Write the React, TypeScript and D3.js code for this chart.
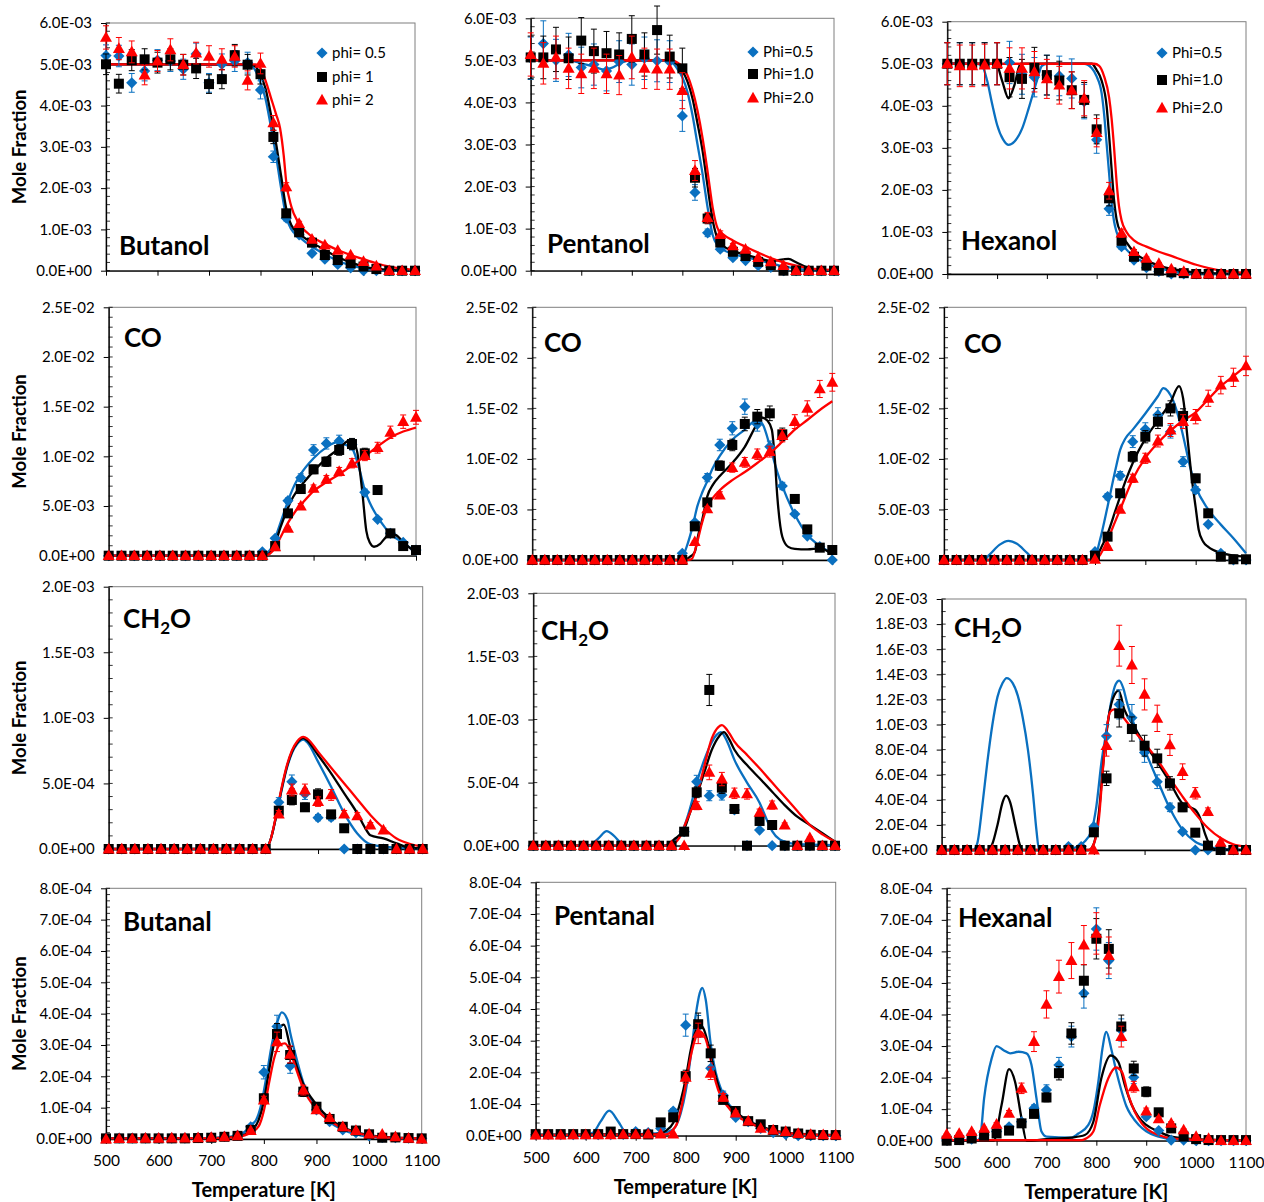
import React, { useEffect, useRef } from "react";
import * as d3 from "d3";

type Pt = [number, number];

const FONT = "Lato, 'Open Sans', sans-serif";
const BLUE = "#0a70c0";
const BLACK = "#000000";
const RED = "#ff0000";

// measured temperatures [K]
const temps = [500, 525, 550, 575, 600, 625, 650, 675, 700, 725, 750, 775, 800, 825, 850, 875, 900, 925, 950, 975, 1000, 1025, 1050, 1075, 1100];
const xTicks = [500, 600, 700, 800, 900, 1000, 1100];

// ---------- Butanol (x 1E-03)
const butanolExp05 = [5.21, 5.2, 4.55, 4.84, 5.1, 5.08, 4.88, 5.25, 4.55, 5.0, 5.08, 5.04, 4.38, 2.76, 1.27, 0.87, 0.42, 0.28, 0.15, 0.07, 0, 0, 0, 0, 0];
const butanolExp1 = [5.0, 4.53, 5.1, 5.12, 5.04, 5.12, 4.99, 4.9, 4.52, 4.64, 5.22, 4.99, 4.76, 3.24, 1.39, 0.93, 0.68, 0.38, 0.26, 0.18, 0.1, 0.04, 0, 0, 0];
const butanolExp2 = [5.65, 5.38, 5.3, 4.74, 5.08, 5.35, 4.99, 5.27, 5.19, 5.12, 5.19, 4.61, 5.02, 3.58, 2.03, 1.14, 0.76, 0.62, 0.49, 0.38, 0.22, 0.11, 0, 0, 0];
const butanolMod05: Pt[] = [[500, 5.0], [780, 4.98], [790, 4.85], [800, 4.55], [810, 4.15], [820, 3.5], [830, 2.8], [840, 2.0], [850, 1.3], [860, 1.0], [875, 0.82], [900, 0.58], [925, 0.4], [950, 0.24], [975, 0.13], [1000, 0.06], [1025, 0.02], [1050, 0], [1100, 0]];
const butanolMod1: Pt[] = [[500, 5.0], [780, 5.0], [790, 4.95], [800, 4.75], [810, 4.4], [820, 3.8], [830, 3.1], [840, 2.3], [850, 1.5], [860, 1.1], [875, 0.9], [900, 0.68], [925, 0.5], [950, 0.33], [975, 0.2], [1000, 0.1], [1025, 0.05], [1050, 0.02], [1100, 0]];
const butanolMod2: Pt[] = [[500, 5.0], [790, 5.0], [800, 4.9], [810, 4.6], [820, 4.2], [830, 3.8], [838, 3.45], [845, 2.8], [850, 2.15], [860, 1.55], [872, 1.2], [880, 1.05], [890, 0.93], [900, 0.82], [925, 0.65], [950, 0.5], [975, 0.38], [1000, 0.28], [1025, 0.18], [1050, 0.1], [1075, 0.05], [1100, 0.02]];

// ---------- Pentanol (x 1E-03)
const pentanolExp05 = [5.05, 5.4, 5.0, 5.13, 4.83, 4.9, 4.75, 4.97, 4.9, 5.05, 4.99, 4.97, 3.68, 1.86, 0.9, 0.51, 0.31, 0.24, 0.12, 0.08, 0, 0, 0, 0, 0];
const pentanolExp1 = [5.07, 5.07, 5.26, 5.05, 5.47, 5.22, 5.17, 5.14, 5.51, 5.14, 5.72, 5.09, 4.81, 2.21, 1.24, 0.67, 0.45, 0.35, 0.21, 0.13, 0, 0, 0, 0, 0];
const pentanolExp2 = [5.14, 4.93, 5.07, 4.81, 4.68, 4.81, 4.68, 4.65, 5.07, 4.81, 4.79, 4.79, 4.28, 2.38, 1.26, 0.86, 0.59, 0.51, 0.31, 0.21, 0.12, 0, 0, 0, 0];
const pentanolMod05: Pt[] = [[500, 5.0], [575, 5.0], [600, 4.93], [625, 4.85], [645, 4.78], [660, 4.82], [680, 4.95], [700, 5.0], [765, 5.0], [780, 4.95], [790, 4.8], [800, 4.6], [810, 4.25], [820, 3.7], [830, 3.0], [840, 2.3], [850, 1.5], [860, 0.85], [870, 0.6], [880, 0.5], [900, 0.4], [925, 0.32], [950, 0.25], [975, 0.18], [1000, 0.1], [1025, 0.05], [1050, 0.02], [1100, 0]];
const pentanolMod1: Pt[] = [[500, 5.0], [775, 5.0], [790, 4.9], [800, 4.75], [810, 4.5], [820, 4.1], [830, 3.5], [840, 2.85], [850, 2.0], [860, 1.2], [870, 0.75], [880, 0.6], [900, 0.47], [925, 0.38], [950, 0.3], [975, 0.23], [1000, 0.27], [1010, 0.28], [1025, 0.2], [1050, 0.06], [1075, 0.01], [1100, 0]];
const pentanolMod2: Pt[] = [[500, 5.0], [780, 5.0], [790, 4.95], [800, 4.85], [810, 4.65], [820, 4.3], [830, 3.8], [840, 3.15], [850, 2.35], [860, 1.5], [870, 1.0], [880, 0.87], [900, 0.72], [925, 0.57], [950, 0.43], [975, 0.3], [1000, 0.2], [1025, 0.12], [1050, 0.06], [1075, 0.03], [1100, 0.02]];

// ---------- Hexanol (x 1E-03)
const hexanolExp05 = [5.0, 5.0, 5.0, 5.0, 5.0, 5.03, 4.75, 4.68, 4.73, 4.71, 4.65, 4.1, 3.19, 1.55, 0.65, 0.33, 0.15, 0.06, 0, 0, 0, 0, 0, 0, 0];
const hexanolExp1 = [5.0, 5.0, 5.0, 5.0, 5.0, 4.68, 4.64, 4.9, 4.73, 4.6, 4.37, 4.14, 3.44, 1.8, 0.79, 0.41, 0.2, 0.08, 0.04, 0.02, 0, 0, 0, 0, 0];
const hexanolExp2 = [5.0, 4.95, 4.95, 4.97, 5.0, 4.89, 4.89, 4.81, 4.64, 4.49, 4.37, 4.18, 3.36, 1.98, 0.97, 0.53, 0.37, 0.25, 0.12, 0.06, 0, 0, 0, 0, 0];
const hexanolMod05: Pt[] = [[500, 5.0], [560, 5.0], [570, 4.95], [580, 4.6], [590, 4.05], [600, 3.55], [612, 3.2], [623, 3.07], [635, 3.15], [650, 3.45], [665, 4.0], [680, 4.6], [690, 4.95], [700, 5.0], [775, 5.0], [790, 4.9], [800, 4.7], [810, 4.3], [815, 3.8], [820, 3.1], [825, 2.4], [830, 1.7], [835, 1.25], [840, 1.0], [850, 0.75], [860, 0.58], [875, 0.42], [900, 0.25], [925, 0.14], [950, 0.07], [975, 0.03], [1000, 0.01], [1100, 0]];
const hexanolMod1: Pt[] = [[500, 5.0], [598, 5.0], [610, 4.6], [623, 4.18], [635, 4.5], [647, 5.0], [790, 5.0], [800, 4.85], [810, 4.6], [820, 4.0], [825, 3.3], [830, 2.5], [835, 1.75], [840, 1.3], [850, 0.95], [860, 0.75], [875, 0.52], [900, 0.32], [925, 0.2], [950, 0.12], [975, 0.07], [1000, 0.03], [1050, 0.01], [1100, 0]];
const hexanolMod2: Pt[] = [[500, 5.0], [795, 5.0], [805, 4.95], [815, 4.7], [825, 4.2], [830, 3.7], [835, 3.0], [840, 2.2], [845, 1.6], [850, 1.28], [860, 1.0], [875, 0.8], [900, 0.65], [925, 0.53], [950, 0.43], [975, 0.32], [1000, 0.22], [1025, 0.14], [1050, 0.08], [1075, 0.05], [1100, 0.03]];

// ---------- CO, butanol (x 1E-03)
const coButExp05 = [0, 0, 0, 0, 0, 0, 0, 0, 0, 0, 0, 0, 0.4, 1.75, 5.54, 7.85, 10.64, 11.3, 11.55, 11.2, 6.38, 3.66, 2.25, 1.34, 0.57];
const coButExp1 = [0, 0, 0, 0, 0, 0, 0, 0, 0, 0, 0, 0, 0, 0.97, 4.26, 6.71, 8.69, 9.46, 10.64, 11.24, 10.3, 6.61, 2.25, 0.97, 0.57];
const coButExp2 = [0, 0, 0, 0, 0, 0, 0, 0, 0, 0, 0, 0, 0, 0.9, 2.75, 5.0, 6.78, 7.68, 8.46, 9.3, 10.07, 10.87, 12.42, 13.49, 13.93];
const coButMod05: Pt[] = [[500, 0], [800, 0], [810, 0.3], [820, 1.0], [830, 2.5], [840, 4.0], [850, 5.5], [860, 6.8], [875, 8.2], [900, 9.8], [925, 10.9], [945, 11.4], [960, 11.2], [975, 10.8], [990, 8.6], [1000, 6.6], [1010, 5.3], [1025, 3.9], [1040, 2.8], [1050, 2.2], [1075, 1.3], [1090, 0.75], [1100, 0.4]];
const coButMod1: Pt[] = [[500, 0], [805, 0], [815, 0.3], [825, 1.2], [835, 2.8], [850, 4.8], [860, 5.9], [875, 7.0], [900, 8.5], [925, 9.8], [950, 10.8], [965, 11.5], [975, 11.7], [985, 10.5], [995, 6.5], [1003, 2.5], [1010, 1.3], [1018, 0.9], [1030, 1.2], [1040, 1.8], [1050, 2.2], [1060, 2.1], [1075, 1.4], [1090, 0.7], [1100, 0.4]];
const coButMod2: Pt[] = [[500, 0], [805, 0], [815, 0.2], [825, 0.8], [835, 1.8], [850, 3.3], [865, 4.5], [875, 5.1], [900, 6.5], [925, 7.4], [950, 8.2], [975, 9.1], [1000, 10.0], [1025, 11.0], [1050, 11.9], [1075, 12.5], [1100, 12.9]];

// ---------- CO, pentanol (x 1E-03)
const coPenExp05 = [0, 0, 0, 0, 0, 0, 0, 0, 0, 0, 0, 0, 0.66, 3.73, 8.15, 11.38, 13.03, 15.17, 13.42, 11.21, 7.32, 4.55, 2.37, 1.32, 0];
const coPenExp1 = [0, 0, 0, 0, 0, 0, 0, 0, 0, 0, 0, 0, 0, 3.33, 5.7, 9.33, 11.38, 13.46, 14.18, 14.51, 12.43, 6.04, 3.03, 1.22, 0.99];
const coPenExp2 = [0, 0, 0, 0, 0, 0, 0, 0, 0, 0, 0, 0, 0, 1.81, 5.05, 6.43, 9.14, 9.66, 10.46, 10.72, 12.3, 13.69, 15.0, 16.92, 17.58];
const coPenMod05: Pt[] = [[500, 0], [790, 0], [800, 0.3], [810, 1.5], [820, 3.2], [830, 5.3], [840, 6.7], [850, 7.8], [860, 9.0], [875, 10.3], [900, 11.9], [925, 12.9], [940, 13.6], [952, 13.85], [962, 13.3], [975, 11.3], [990, 8.7], [1000, 7.3], [1025, 4.5], [1050, 2.5], [1075, 1.4], [1100, 0.66]];
const coPenMod1: Pt[] = [[500, 0], [805, 0], [815, 0.3], [825, 0.8], [832, 2.5], [840, 4.0], [850, 6.3], [862, 7.5], [875, 8.3], [900, 9.6], [925, 11.2], [950, 13.5], [959, 14.1], [970, 13.8], [979, 12.9], [985, 10.0], [990, 6.3], [1000, 2.3], [1012, 1.3], [1025, 1.1], [1050, 1.05], [1075, 1.15], [1090, 0.9], [1100, 0.5]];
const coPenMod2: Pt[] = [[500, 0], [810, 0], [819, 0.1], [830, 1.8], [839, 3.6], [850, 5.3], [862, 6.2], [875, 6.9], [900, 7.9], [925, 8.7], [950, 9.6], [975, 10.55], [1000, 11.7], [1025, 12.9], [1050, 13.85], [1075, 14.84], [1100, 15.7]];

// ---------- CO, hexanol (x 1E-03)
const coHexExp05 = [0, 0, 0, 0, 0, 0, 0, 0, 0, 0, 0, 0, 0.82, 6.27, 8.34, 11.71, 12.93, 14.35, 12.7, 9.73, 6.93, 3.53, 0.66, 0, 0];
const coHexExp1 = [0, 0, 0, 0, 0, 0, 0, 0, 0, 0, 0, 0, 0.43, 2.31, 6.6, 10.22, 12.2, 13.69, 15.0, 14.25, 8.08, 4.62, 0.33, 0.07, 0.07];
const coHexExp2 = [0, 0, 0, 0, 0, 0, 0, 0, 0, 0, 0, 0, 0.07, 1.32, 5.0, 8.08, 10.06, 11.77, 12.86, 13.69, 14.18, 16.0, 17.3, 18.07, 19.2];
const coHexMod05: Pt[] = [[500, 0], [578, 0], [590, 0.5], [610, 1.5], [628, 1.9], [645, 1.6], [665, 0.7], [680, 0.05], [690, 0], [792, 0], [800, 0.3], [810, 2.0], [825, 5.3], [840, 8.8], [850, 10.9], [860, 12.0], [875, 12.9], [900, 14.5], [925, 16.2], [936, 17.0], [945, 16.7], [955, 15.8], [965, 14.3], [975, 12.3], [990, 9.0], [1000, 7.3], [1025, 5.0], [1050, 3.5], [1075, 2.15], [1100, 0.66]];
const coHexMod1: Pt[] = [[500, 0], [795, 0], [805, 0.5], [815, 1.5], [825, 2.6], [840, 4.8], [850, 6.3], [862, 8.0], [875, 9.6], [900, 12.0], [925, 13.8], [950, 15.6], [967, 17.2], [975, 16.0], [985, 11.5], [992, 8.2], [1000, 5.2], [1006, 3.0], [1015, 1.8], [1025, 1.3], [1050, 0.7], [1075, 0.45], [1100, 0.3]];
const coHexMod2: Pt[] = [[500, 0], [798, 0], [810, 0.5], [825, 2.0], [840, 3.8], [850, 5.0], [875, 8.0], [900, 10.1], [925, 11.6], [950, 12.8], [975, 13.8], [1000, 14.6], [1025, 15.9], [1050, 17.2], [1075, 18.2], [1100, 19.2]];

// ---------- CH2O, butanol (x 1E-04)
const chButExp05 = [0, 0, 0, 0, 0, 0, 0, 0, 0, 0, 0, 0, 0, 3.56, 5.13, 4.2, 2.39, 2.4, 0, 0, 0, 0, 0, 0, 0];
const chButExp1 = [0, 0, 0, 0, 0, 0, 0, 0, 0, 0, 0, 0, 0, 2.92, 3.74, 3.18, 4.17, 2.64, 1.58, 0, 0, 0, 0, 0, 0];
const chButExp2 = [0, 0, 0, 0, 0, 0, 0, 0, 0, 0, 0, 0, 0, 2.67, 4.5, 4.5, 3.61, 4.12, 2.67, 2.52, 1.83, 1.45, 0, 0, 0];
const chButMod05: Pt[] = [[500, 0], [800, 0], [810, 0.8], [820, 2.5], [830, 4.4], [840, 6.1], [850, 7.3], [860, 8.0], [872, 8.35], [880, 8.1], [900, 6.66], [925, 4.75], [950, 2.72], [975, 1.19], [1000, 0.36], [1025, 0.18], [1050, 0.1], [1100, 0.05]];
const chButMod1: Pt[] = [[500, 0], [800, 0], [810, 0.8], [820, 2.5], [830, 4.5], [840, 6.2], [850, 7.4], [860, 8.1], [872, 8.45], [880, 8.25], [900, 7.17], [925, 5.77], [950, 4.24], [975, 2.72], [990, 1.6], [1000, 1.05], [1025, 0.81], [1050, 0.43], [1075, 0.1], [1100, 0.05]];
const chButMod2: Pt[] = [[500, 0], [800, 0], [810, 0.8], [820, 2.6], [830, 4.6], [840, 6.3], [850, 7.5], [860, 8.2], [872, 8.55], [880, 8.4], [900, 7.42], [925, 6.2], [950, 5.0], [975, 3.8], [1000, 2.6], [1025, 1.6], [1050, 0.8], [1075, 0.4], [1100, 0.18]];

// ---------- CH2O, pentanol (x 1E-04)
const chPenExp05 = [0, 0, 0, 0, 0, 0, 0, 0, 0, 0, 0, 0, 1.11, 5.07, 3.96, 4.02, 2.83, 0, 1.24, 0, 0, 0, 0, 0, 0];
const chPenExp1 = [0, 0, 0, 0, 0, 0, 0, 0, 0, 0, 0, 0, 1.11, 4.23, 12.34, 4.6, 2.91, 0, 1.96, 1.64, 0, 0, 0, 0, 0];
const chPenExp2 = [0, 0, 0, 0, 0, 0, 0, 0, 0, 0, 0, 0, 0, 3.17, 5.81, 5.28, 4.15, 4.1, 2.64, 3.22, 1.64, 0, 0.63, 0, 0];
const chPenMod05: Pt[] = [[500, 0], [605, 0], [615, 0.1], [630, 0.6], [646, 1.15], [660, 0.8], [675, 0.2], [690, 0], [765, 0], [780, 0.3], [800, 1.5], [812, 3.0], [825, 5.0], [840, 6.8], [855, 8.2], [865, 8.8], [873, 9.0], [885, 8.3], [900, 6.8], [925, 5.0], [950, 3.4], [965, 2.0], [975, 1.16], [990, 0.5], [1000, 0.32], [1025, 0.12], [1100, 0.05]];
const chPenMod1: Pt[] = [[500, 0], [760, 0], [780, 0.5], [800, 1.3], [815, 3.0], [825, 4.0], [840, 5.8], [855, 7.6], [870, 8.7], [879, 9.0], [890, 8.4], [900, 7.6], [925, 6.39], [950, 5.34], [975, 4.28], [1000, 3.22], [1025, 2.3], [1050, 1.64], [1075, 0.98], [1100, 0.32]];
const chPenMod2: Pt[] = [[500, 0], [770, 0], [790, 0.6], [805, 2.0], [825, 4.0], [840, 6.3], [855, 8.5], [868, 9.4], [875, 9.55], [890, 8.9], [900, 8.24], [925, 7.2], [950, 6.13], [975, 5.0], [1000, 3.88], [1025, 2.75], [1050, 1.64], [1075, 0.9], [1100, 0.32]];

// ---------- CH2O, hexanol (x 1E-04)
const chHexExp05 = [0, 0, 0, 0, 0, 0, 0, 0, 0, 0, 0.27, 0.27, 1.86, 9.08, 11.6, 10.54, 7.76, 5.44, 3.4, 1.46, 0, 0, 0, 0, 0];
const chHexExp1 = [0, 0, 0, 0, 0, 0, 0, 0, 0, 0, 0, 0, 1.41, 5.71, 10.89, 9.64, 8.31, 7.3, 5.31, 3.4, 1.38, 0.35, 0, 0, 0];
const chHexExp2 = [0, 0, 0, 0, 0, 0, 0, 0, 0, 0, 0, 0, 0, 8.31, 16.28, 14.74, 12.4, 10.49, 8.37, 6.24, 4.52, 3.05, 0.61, 0, 0];
const chHexMod05: Pt[] = [[500, 0], [562, 0], [570, 0.5], [580, 3.5], [590, 7.0], [600, 10.0], [610, 12.2], [620, 13.3], [628, 13.7], [640, 13.3], [650, 12.3], [660, 10.5], [670, 8.0], [680, 4.5], [687, 1.5], [692, 0], [745, 0], [760, 0.15], [780, 0.6], [795, 1.5], [805, 3.5], [815, 7.0], [825, 9.5], [835, 12.0], [843, 13.2], [850, 13.5], [858, 12.9], [865, 11.8], [875, 10.5], [900, 8.0], [925, 5.6], [950, 3.3], [975, 1.6], [1000, 0.66], [1025, 0.27], [1050, 0.1], [1100, 0]];
const chHexMod1: Pt[] = [[500, 0], [592, 0], [600, 0.5], [610, 2.0], [620, 3.8], [627, 4.33], [635, 3.8], [645, 2.0], [655, 0.3], [660, 0], [790, 0], [800, 0.5], [810, 3.0], [820, 7.5], [830, 10.8], [840, 12.3], [849, 12.7], [860, 11.2], [875, 10.1], [900, 8.5], [925, 7.0], [950, 5.4], [975, 3.7], [990, 3.4], [1000, 3.2], [1010, 2.5], [1020, 1.2], [1030, 0.3], [1040, 0.05], [1100, 0]];
const chHexMod2: Pt[] = [[500, 0], [790, 0], [800, 0.5], [810, 2.5], [818, 6.5], [825, 9.5], [832, 11.0], [840, 11.2], [850, 10.9], [875, 9.7], [900, 8.5], [925, 7.2], [950, 5.7], [975, 4.25], [1000, 2.9], [1025, 1.75], [1050, 0.95], [1075, 0.45], [1100, 0.27]];

// ---------- Butanal (x 1E-04)
const butanalExp05 = [0.03, 0.03, 0.03, 0.03, 0.03, 0.03, 0.03, 0.04, 0.05, 0.08, 0.12, 0.39, 2.13, 3.59, 2.33, 1.51, 0.93, 0.55, 0.29, 0.2, 0.1, 0.05, 0.04, 0.03, 0.02];
const butanalExp1 = [0.02, 0.02, 0.02, 0.02, 0.02, 0.02, 0.02, 0.03, 0.04, 0.07, 0.1, 0.29, 1.3, 3.35, 2.68, 1.51, 1.03, 0.64, 0.39, 0.27, 0.15, 0.04, 0.05, 0.03, 0.02];
const butanalExp2 = [0, 0.01, 0.01, 0.02, 0.02, 0.03, 0.03, 0.04, 0.05, 0.07, 0.1, 0.27, 1.24, 3.1, 2.7, 1.56, 0.93, 0.68, 0.39, 0.27, 0.16, 0.15, 0.07, 0.02, 0];
const butanalMod05: Pt[] = [[500, 0.02], [700, 0.03], [750, 0.1], [765, 0.25], [775, 0.45], [785, 0.6], [795, 1.1], [805, 2.0], [815, 3.0], [825, 3.7], [834, 4.04], [845, 3.8], [850, 3.4], [860, 2.7], [875, 1.8], [890, 1.25], [900, 1.0], [925, 0.55], [950, 0.3], [975, 0.15], [1000, 0.08], [1050, 0.03], [1100, 0.01]];
const butanalMod1: Pt[] = [[500, 0.02], [700, 0.03], [750, 0.08], [775, 0.25], [790, 0.6], [800, 1.2], [810, 2.2], [820, 3.1], [830, 3.55], [838, 3.65], [850, 2.95], [860, 2.45], [875, 1.75], [900, 1.1], [925, 0.65], [950, 0.38], [975, 0.22], [1000, 0.12], [1050, 0.04], [1100, 0.02]];
const butanalMod2: Pt[] = [[500, 0.02], [700, 0.03], [750, 0.07], [775, 0.2], [790, 0.4], [800, 0.9], [810, 1.8], [820, 2.6], [830, 3.0], [840, 3.05], [850, 2.8], [860, 2.3], [875, 1.6], [900, 0.95], [925, 0.58], [950, 0.35], [975, 0.2], [1000, 0.11], [1050, 0.04], [1100, 0.02]];

// ---------- Pentanal (x 1E-04)
const pentanalExp05 = [0.03, 0.03, 0.03, 0.03, 0.03, 0.03, 0.03, 0.04, 0.13, 0.1, 0.23, 0.78, 3.49, 3.45, 2.13, 1.28, 0.58, 0.44, 0.23, 0.1, 0.04, 0, 0, 0, 0];
const pentanalExp1 = [0.05, 0.05, 0.05, 0.05, 0.05, 0.05, 0.13, 0.05, 0.05, 0.04, 0.42, 0.58, 1.88, 3.52, 2.6, 1.13, 0.78, 0.46, 0.36, 0.18, 0.13, 0.07, 0.03, 0.02, 0.02];
const pentanalExp2 = [0.02, 0.02, 0.02, 0.03, 0.03, 0.03, 0.03, 0.04, 0.04, 0.05, 0.05, 0.05, 1.84, 3.23, 1.97, 1.21, 0.71, 0.46, 0.23, 0.18, 0.13, 0.07, 0.04, 0.03, 0.02];
const pentanalMod05: Pt[] = [[500, 0.02], [600, 0.02], [615, 0.1], [630, 0.45], [647, 0.79], [665, 0.45], [680, 0.1], [690, 0.05], [750, 0.08], [775, 0.2], [790, 0.7], [800, 1.4], [810, 2.5], [820, 3.8], [828, 4.5], [833, 4.67], [840, 4.3], [850, 2.9], [860, 2.0], [870, 1.5], [880, 1.15], [900, 0.75], [925, 0.45], [950, 0.25], [975, 0.12], [1000, 0.06], [1050, 0.02], [1100, 0.01]];
const pentanalMod1: Pt[] = [[500, 0.03], [740, 0.05], [760, 0.15], [775, 0.4], [790, 1.1], [800, 1.8], [810, 2.7], [820, 3.3], [827, 3.5], [835, 3.4], [845, 2.9], [855, 2.2], [865, 1.6], [875, 1.2], [900, 0.75], [925, 0.47], [950, 0.3], [975, 0.17], [1000, 0.1], [1050, 0.04], [1100, 0.02]];
const pentanalMod2: Pt[] = [[500, 0.02], [760, 0.04], [780, 0.3], [790, 0.8], [800, 1.6], [810, 2.5], [820, 3.1], [827, 3.3], [840, 3.05], [850, 2.4], [860, 1.7], [870, 1.25], [880, 1.0], [900, 0.65], [925, 0.42], [950, 0.26], [975, 0.15], [1000, 0.09], [1050, 0.03], [1100, 0.02]];

// ---------- Hexanal (x 1E-04)
const hexanalExp05 = [0.02, 0.03, 0.05, 0.18, 0.29, 0.44, 0.6, 1.03, 1.61, 2.4, 3.3, 4.67, 6.71, 5.71, 3.51, 2.01, 0.76, 0.32, 0.02, 0.02, 0, 0, 0, 0, 0];
const hexanalExp1 = [0, 0.02, 0.07, 0.16, 0.23, 0.32, 0.55, 0.85, 1.37, 2.14, 3.4, 5.07, 6.4, 6.08, 3.62, 2.29, 1.55, 0.9, 0.39, 0.13, 0.05, 0.02, 0.02, 0.02, 0.02];
const hexanalExp2 = [0.2, 0.23, 0.29, 0.39, 0.52, 0.87, 1.66, 3.14, 4.32, 5.2, 5.71, 6.2, 6.57, 5.87, 3.3, 1.71, 0.94, 0.69, 0.55, 0.34, 0.13, 0.07, 0, 0, 0];
const hexanalMod05: Pt[] = [[500, 0], [560, 0], [567, 0.1], [575, 1.34], [590, 2.6], [600, 3.0], [614, 2.87], [627, 2.77], [644, 2.82], [660, 2.77], [670, 2.4], [680, 1.34], [690, 0.29], [700, 0.13], [750, 0.1], [764, 0.23], [784, 0.5], [795, 1.0], [804, 1.87], [812, 2.9], [820, 3.45], [830, 2.9], [840, 2.2], [850, 1.6], [860, 1.1], [870, 0.8], [885, 0.5], [900, 0.3], [925, 0.13], [950, 0.05], [1000, 0.01], [1100, 0]];
const hexanalMod1: Pt[] = [[500, 0], [594, 0], [610, 1.13], [625, 2.27], [637, 1.87], [650, 0.71], [660, 0], [700, 0.05], [750, 0.1], [777, 0.18], [794, 0.6], [810, 1.98], [829, 2.7], [844, 2.5], [857, 1.77], [871, 1.13], [884, 0.76], [900, 0.5], [925, 0.29], [950, 0.13], [1000, 0.05], [1100, 0.01]];
const hexanalMod2: Pt[] = [[500, 0.02], [770, 0.02], [777, 0.05], [794, 0.29], [807, 1.13], [824, 1.98], [839, 2.32], [851, 2.19], [864, 1.45], [877, 0.92], [891, 0.55], [904, 0.34], [925, 0.18], [950, 0.07], [1000, 0.03], [1100, 0.01]];

const legendLower = ["phi= 0.5", "phi= 1", "phi= 2"];
const legendUpper = ["Phi=0.5", "Phi=1.0", "Phi=2.0"];

interface Panel {
  left: number; right: number; top: number; bottom: number;
  yMax: number; yStep: number; minor: number; exp: number; err: number;
  title: string; tx: number; ty: number;
  e05: number[]; e1: number[]; e2: number[];
  m05: Pt[]; m1: Pt[]; m2: Pt[];
  legend?: { x: number; ys: number[]; labels: string[] };
  yLabel?: boolean; xLabels?: boolean; xTitleY?: number;
}

const panels: Panel[] = [
  { left: 106, right: 415, top: 23, bottom: 270.7, yMax: 6, yStep: 1, minor: 5, exp: -3, err: 0.05, title: "Butanol", tx: 119, ty: 255,
    e05: butanolExp05, e1: butanolExp1, e2: butanolExp2, m05: butanolMod05, m1: butanolMod1, m2: butanolMod2,
    legend: { x: 322, ys: [53, 77, 100], labels: legendLower }, yLabel: true },
  { left: 530.7, right: 834, top: 18.3, bottom: 270.7, yMax: 6, yStep: 1, minor: 5, exp: -3, err: 0.1, title: "Pentanol", tx: 547, ty: 253,
    e05: pentanolExp05, e1: pentanolExp1, e2: pentanolExp2, m05: pentanolMod05, m1: pentanolMod1, m2: pentanolMod2,
    legend: { x: 753, ys: [52, 74, 98], labels: legendUpper } },
  { left: 947.3, right: 1246, top: 21.7, bottom: 274, yMax: 6, yStep: 1, minor: 5, exp: -3, err: 0.1, title: "Hexanol", tx: 961, ty: 250,
    e05: hexanolExp05, e1: hexanolExp1, e2: hexanolExp2, m05: hexanolMod05, m1: hexanolMod1, m2: hexanolMod2,
    legend: { x: 1162, ys: [53, 80, 108], labels: legendUpper } },
  { left: 108.7, right: 416, top: 307.3, bottom: 555.7, yMax: 25, yStep: 5, minor: 5, exp: -3, err: 0.05, title: "CO", tx: 124, ty: 347,
    e05: coButExp05, e1: coButExp1, e2: coButExp2, m05: coButMod05, m1: coButMod1, m2: coButMod2, yLabel: true },
  { left: 532.3, right: 832.3, top: 307.3, bottom: 560, yMax: 25, yStep: 5, minor: 5, exp: -3, err: 0.05, title: "CO", tx: 544, ty: 352,
    e05: coPenExp05, e1: coPenExp1, e2: coPenExp2, m05: coPenMod05, m1: coPenMod1, m2: coPenMod2 },
  { left: 944, right: 1246, top: 307.3, bottom: 560, yMax: 25, yStep: 5, minor: 5, exp: -3, err: 0.05, title: "CO", tx: 964, ty: 353,
    e05: coHexExp05, e1: coHexExp1, e2: coHexExp2, m05: coHexMod05, m1: coHexMod1, m2: coHexMod2 },
  { left: 108.7, right: 422.7, top: 586.7, bottom: 849, yMax: 20, yStep: 5, minor: 5, exp: -4, err: 0.1, title: "CH2O", tx: 123, ty: 628,
    e05: chButExp05, e1: chButExp1, e2: chButExp2, m05: chButMod05, m1: chButMod1, m2: chButMod2, yLabel: true },
  { left: 533.3, right: 835, top: 593.3, bottom: 845.7, yMax: 20, yStep: 5, minor: 5, exp: -4, err: 0.1, title: "CH2O", tx: 541, ty: 640,
    e05: chPenExp05, e1: chPenExp1, e2: chPenExp2, m05: chPenMod05, m1: chPenMod1, m2: chPenMod2 },
  { left: 941.7, right: 1246, top: 599, bottom: 850, yMax: 20, yStep: 2, minor: 2, exp: -4, err: 0.1, title: "CH2O", tx: 954, ty: 637,
    e05: chHexExp05, e1: chHexExp1, e2: chHexExp2, m05: chHexMod05, m1: chHexMod1, m2: chHexMod2 },
  { left: 106, right: 421.7, top: 888.3, bottom: 1139, yMax: 8, yStep: 1, minor: 5, exp: -4, err: 0.1, title: "Butanal", tx: 123, ty: 931,
    e05: butanalExp05, e1: butanalExp1, e2: butanalExp2, m05: butanalMod05, m1: butanalMod1, m2: butanalMod2,
    yLabel: true, xLabels: true, xTitleY: 1197 },
  { left: 535.7, right: 835.7, top: 882.3, bottom: 1135.7, yMax: 8, yStep: 1, minor: 5, exp: -4, err: 0.1, title: "Pentanal", tx: 554, ty: 925,
    e05: pentanalExp05, e1: pentanalExp1, e2: pentanalExp2, m05: pentanalMod05, m1: pentanalMod1, m2: pentanalMod2,
    xLabels: true, xTitleY: 1194 },
  { left: 946.7, right: 1246, top: 888.3, bottom: 1140.7, yMax: 8, yStep: 1, minor: 5, exp: -4, err: 0.1, title: "Hexanal", tx: 958, ty: 927,
    e05: hexanalExp05, e1: hexanalExp1, e2: hexanalExp2, m05: hexanalMod05, m1: hexanalMod1, m2: hexanalMod2,
    xLabels: true, xTitleY: 1199 },
];

function sci(v: number, exp: number) {
  const s = (v * Math.pow(10, exp)).toExponential(1);
  const [m, e] = s.split("e");
  const n = parseInt(e, 10);
  return m + "E" + (n < 0 ? "-" : "+") + String(Math.abs(n)).padStart(2, "0");
}

function marker(g: any, shape: string, cx: number, cy: number, color: string) {
  if (shape === "square") {
    g.append("rect").attr("x", cx - 5).attr("y", cy - 5).attr("width", 10).attr("height", 10).attr("fill", color);
  } else if (shape === "diamond") {
    g.append("path").attr("d", `M${cx},${cy - 5.6}L${cx + 5.6},${cy}L${cx},${cy + 5.6}L${cx - 5.6},${cy}Z`).attr("fill", color);
  } else {
    g.append("path").attr("d", `M${cx},${cy - 6.3}L${cx + 6},${cy + 4.4}L${cx - 6},${cy + 4.4}Z`).attr("fill", color);
  }
}

function drawPanel(root: any, p: Panel) {
  const x = d3.scaleLinear().domain([500, 1100]).range([p.left, p.right]);
  const y = d3.scaleLinear().domain([0, p.yMax]).range([p.bottom, p.top]);
  const g = root.append("g");

  g.append("rect")
    .attr("x", p.left).attr("y", p.top)
    .attr("width", p.right - p.left).attr("height", p.bottom - p.top)
    .attr("fill", "none").attr("stroke", "#7f7f7f").attr("stroke-width", 1);

  // minor ticks on the y axis
  const minorTicks = d3.range(0, p.yMax + 1e-9, p.yStep / p.minor);
  g.selectAll(".minor").data(minorTicks).enter().append("line")
    .attr("x1", p.left).attr("x2", p.left + 4)
    .attr("y1", (d: number) => y(d)).attr("y2", (d: number) => y(d))
    .attr("stroke", "#000").attr("stroke-width", 0.8);

  const yAxis = d3.axisLeft(y)
    .tickValues(d3.range(0, p.yMax + 1e-9, p.yStep))
    .tickSize(5).tickSizeOuter(0).tickPadding(9)
    .tickFormat((d: any) => sci(+d, p.exp));
  const ya = g.append("g").attr("transform", `translate(${p.left},0)`).call(yAxis);
  ya.attr("font-family", FONT).attr("font-size", 15);
  ya.selectAll("text").attr("fill", "#000");
  ya.select(".domain").attr("stroke-width", 1.3);

  const xAxis = d3.axisBottom(x)
    .tickValues(xTicks)
    .tickSize(5).tickSizeOuter(0).tickPadding(11)
    .tickFormat((d: any) => (p.xLabels ? String(d) : ""));
  const xa = g.append("g").attr("transform", `translate(0,${p.bottom})`).call(xAxis);
  xa.attr("font-family", FONT).attr("font-size", 15.5);
  xa.selectAll("text").attr("fill", "#000");
  xa.select(".domain").attr("stroke-width", 1.3);

  // model curves
  const line = d3.line<Pt>().x(d => x(d[0])).y(d => y(d[1])).curve(d3.curveMonotoneX);
  const models: [Pt[], string][] = [[p.m05, BLUE], [p.m1, BLACK], [p.m2, RED]];
  models.forEach(([pts, color]) => {
    g.append("path").attr("d", line(pts)).attr("fill", "none")
      .attr("stroke", color).attr("stroke-width", 2.3).attr("stroke-linejoin", "round");
  });

  // measurements with error bars
  const series: [number[], string, string][] = [[p.e05, BLUE, "diamond"], [p.e1, BLACK, "square"], [p.e2, RED, "triangle"]];
  series.forEach(([vals, color, shape]) => {
    const pts = temps.map((t, i) => [t, vals[i]] as Pt);
    const eb = g.append("g").attr("stroke", color).attr("stroke-width", 1);
    pts.filter(d => d[1] > 0).forEach(d => {
      const e = d[1] * p.err;
      const cx = x(d[0]);
      const y0 = y(d[1] - e), y1 = y(d[1] + e);
      eb.append("line").attr("x1", cx).attr("x2", cx).attr("y1", y0).attr("y2", y1);
      eb.append("line").attr("x1", cx - 3).attr("x2", cx + 3).attr("y1", y0).attr("y2", y0);
      eb.append("line").attr("x1", cx - 3).attr("x2", cx + 3).attr("y1", y1).attr("y2", y1);
    });
    const mg = g.append("g");
    pts.forEach(d => marker(mg, shape, x(d[0]), y(d[1]), color));
  });

  // panel title
  const t = g.append("text").attr("x", p.tx).attr("y", p.ty)
    .attr("font-family", FONT).attr("font-weight", 700).attr("font-size", 26).attr("fill", "#000");
  if (p.title === "CH2O") {
    t.append("tspan").text("CH");
    t.append("tspan").attr("dy", 6).attr("font-size", 17).text("2");
    t.append("tspan").attr("dy", -6).text("O");
  } else {
    t.text(p.title);
  }

  if (p.legend) {
    const lg = g.append("g");
    const shapes = [["diamond", BLUE], ["square", BLACK], ["triangle", RED]];
    p.legend.ys.forEach((ly, i) => {
      marker(lg, shapes[i][0], p.legend!.x, ly, shapes[i][1]);
      lg.append("text").attr("x", p.legend!.x + 10).attr("y", ly + 5)
        .attr("font-family", FONT).attr("font-size", 15).attr("fill", "#000")
        .text(p.legend!.labels[i]);
    });
  }

  if (p.yLabel) {
    g.append("text")
      .attr("transform", `translate(26,${(p.top + p.bottom) / 2}) rotate(-90)`)
      .attr("text-anchor", "middle")
      .attr("font-family", FONT).attr("font-weight", 700).attr("font-size", 18.5).attr("fill", "#000")
      .text("Mole Fraction");
  }

  if (p.xTitleY) {
    g.append("text")
      .attr("x", (p.left + p.right) / 2).attr("y", p.xTitleY)
      .attr("text-anchor", "middle")
      .attr("font-family", FONT).attr("font-weight", 700).attr("font-size", 20).attr("fill", "#000")
      .text("Temperature [K]");
  }
}

export default function App() {
  const ref = useRef<SVGSVGElement>(null);

  useEffect(() => {
    const svg = d3.select(ref.current);
    svg.selectAll("*").remove();
    svg.append("rect").attr("width", 1264).attr("height", 1202).attr("fill", "#fff");
    panels.forEach(p => drawPanel(svg, p));
  }, []);

  return (
    <svg ref={ref} width={1264} height={1202}
      style={{ position: "absolute", left: 0, top: 0, background: "#fff" }} />
  );
}
